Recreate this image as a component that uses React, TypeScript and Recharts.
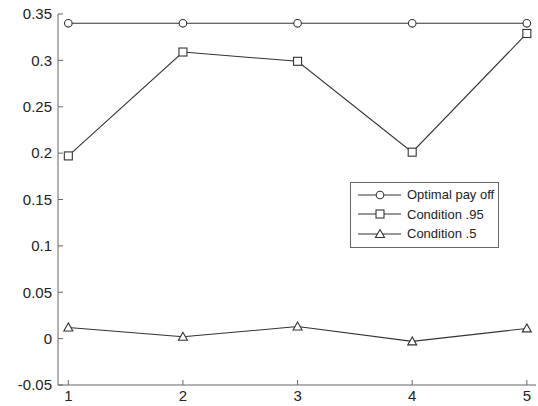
import { LineChart, Line, XAxis, YAxis } from 'recharts';

const xValues = [1, 2, 3, 4, 5];
const optimalPayoff = [0.34, 0.34, 0.34, 0.34, 0.34];
const condition95 = [0.197, 0.309, 0.299, 0.201, 0.329];
const condition5 = [0.012, 0.002, 0.013, -0.003, 0.011];
const yTicks = [-0.05, 0, 0.05, 0.1, 0.15, 0.2, 0.25, 0.3, 0.35];
const seriesNames = ['Optimal pay off', 'Condition .95', 'Condition .5'];

const data = xValues.map((x, i) => ({
  x,
  optimal: optimalPayoff[i],
  c95: condition95[i],
  c5: condition5[i],
}));

const LINE = '#333';
const AXIS = '#666';
const FONT = '"Liberation Sans", Arial, Helvetica, sans-serif';

type Kind = 'circle' | 'square' | 'triangle';

function Marker({ cx, cy, kind }: { cx: number; cy: number; kind: Kind }) {
  if (kind === 'circle') {
    return <circle cx={cx} cy={cy} r={3.8} fill="#fff" stroke={LINE} strokeWidth={1.1} />;
  }
  if (kind === 'square') {
    return <rect x={cx - 4} y={cy - 4} width={8} height={8} fill="#fff" stroke={LINE} strokeWidth={1.1} />;
  }
  return (
    <polygon
      points={`${cx},${cy - 4.5} ${cx - 4.5},${cy + 3.5} ${cx + 4.5},${cy + 3.5}`}
      fill="#fff"
      stroke={LINE}
      strokeWidth={1.1}
    />
  );
}

const kinds: Kind[] = ['circle', 'square', 'triangle'];

const dotFor = (kind: Kind) => (p: any) => (
  <Marker key={`${kind}-${p.index}`} cx={p.cx} cy={p.cy} kind={kind} />
);

function LegendBox() {
  return (
    <div
      style={{
        position: 'absolute',
        left: 350,
        top: 182,
        width: 147,
        border: `1px solid ${AXIS}`,
        background: '#fff',
        padding: '2px 0 3px 0',
        fontFamily: FONT,
        fontSize: 13,
        color: '#222',
      }}
    >
      {seriesNames.map((name, i) => (
        <div key={name} style={{ display: 'flex', alignItems: 'center', height: 19.5 }}>
          <svg width={56} height={14} style={{ flex: 'none' }}>
            <line x1={7} y1={7} x2={50} y2={7} stroke={LINE} strokeWidth={1} />
            <Marker cx={29} cy={7} kind={kinds[i]} />
          </svg>
          <span>{name}</span>
        </div>
      ))}
    </div>
  );
}

export default function App() {
  return (
    <div style={{ position: 'absolute', left: 0, top: 0, width: 538, height: 406, background: '#fff' }}>
      <LineChart width={538} height={406} data={data} margin={{ top: 14, right: 2, left: 0, bottom: 0 }}>
        <XAxis
          dataKey="x"
          type="number"
          domain={[0.91, 5.08]}
          ticks={xValues}
          allowDataOverflow
          height={21}
          stroke={AXIS}
          tickSize={-5}
          tickMargin={10}
          tick={{ fill: '#222', fontSize: 15, fontFamily: FONT }}
        />
        <YAxis
          type="number"
          domain={[-0.05, 0.35]}
          ticks={yTicks}
          width={58}
          stroke={AXIS}
          tickSize={-5}
          tickMargin={11}
          tickFormatter={(v: number) => String(Number(v.toFixed(2)))}
          tick={{ fill: '#222', fontSize: 15, fontFamily: FONT }}
        />
        <Line dataKey="optimal" name={seriesNames[0]} stroke={LINE} strokeWidth={1.1} dot={dotFor('circle')} isAnimationActive={false} />
        <Line dataKey="c95" name={seriesNames[1]} stroke={LINE} strokeWidth={1.1} dot={dotFor('square')} isAnimationActive={false} />
        <Line dataKey="c5" name={seriesNames[2]} stroke={LINE} strokeWidth={1.1} dot={dotFor('triangle')} isAnimationActive={false} />
      </LineChart>
      <LegendBox />
    </div>
  );
}
